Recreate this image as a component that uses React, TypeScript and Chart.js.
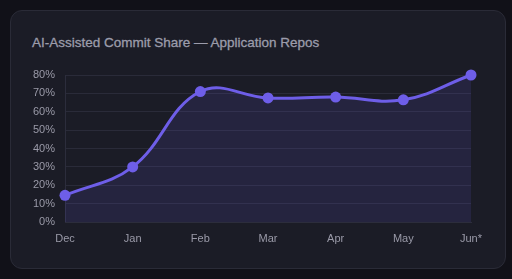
import React, { useEffect, useRef } from "react";
import { Chart, registerables } from "chart.js";

Chart.register(...registerables);

const categories = ["Dec", "Jan", "Feb", "Mar", "Apr", "May", "Jun*"];
const shareValues = [14.5, 30, 71, 67.5, 68, 66.5, 80];
const yTicks = [0, 10, 20, 30, 40, 50, 60, 70, 80];
const title = "AI-Assisted Commit Share — Application Repos";

export default function App() {
  const ref = useRef<HTMLCanvasElement>(null);

  useEffect(() => {
    document.body.style.margin = "0";
    document.body.style.background = "#111118";
    const ctx = ref.current!.getContext("2d")!;
    const chart = new Chart(ctx, {
      type: "line",
      data: {
        labels: categories,
        datasets: [
          {
            data: shareValues,
            borderColor: "#6e5ee8",
            backgroundColor: "rgba(110,94,232,0.13)",
            borderWidth: 3,
            fill: "origin",
            tension: 0.4,
            clip: false,
            pointRadius: 5.5,
            pointHoverRadius: 5.5,
            pointBackgroundColor: "#6e5ee8",
            pointBorderColor: "#6e5ee8",
            pointBorderWidth: 0,
          },
        ],
      },
      options: {
        animation: false,
        responsive: false,
        maintainAspectRatio: false,
        layout: { padding: { top: 75, left: 0, right: 41, bottom: 27 } },
        plugins: { legend: { display: false }, tooltip: { enabled: false } },
        scales: {
          x: {
            grid: { display: false, drawTicks: false },
            border: { display: true, color: "#2c2d3c", width: 1 },
            ticks: {
              color: "#9a9aa8",
              padding: 10,
              font: { family: "'Liberation Sans', Arial, sans-serif", size: 11 },
            },
            afterFit: (s: any) => {
              s.height = 30;
            },
          },
          y: {
            min: 0,
            max: 80,
            afterBuildTicks: (s: any) => {
              s.ticks = yTicks.map((v) => ({ value: v }));
            },
            grid: { color: "#2a2b39", drawTicks: false, lineWidth: 1 },
            border: { display: true, color: "#2c2d3c", width: 1 },
            ticks: {
              color: "#9a9aa8",
              padding: 10,
              callback: (v: any) => v + "%",
              font: { family: "'Liberation Sans', Arial, sans-serif", size: 11 },
            },
            afterFit: (s: any) => {
              s.width = 65;
            },
          },
        },
      },
    });
    return () => chart.destroy();
  }, []);

  return (
    <div style={{ position: "fixed", inset: 0, background: "#111118" }}>
      <div
        style={{
          position: "absolute",
          left: 10,
          top: 10,
          width: 494,
          height: 257,
          background: "#1b1c26",
          border: "1px solid #2a2b37",
          borderRadius: 12,
        }}
      />
      <div
        style={{
          position: "absolute",
          left: 32,
          top: 35,
          fontFamily: "'Liberation Sans', Arial, sans-serif",
          fontSize: 13.5,
          color: "#9c9cab",
          whiteSpace: "nowrap",
          WebkitTextStroke: "0.3px #9c9cab",
        }}
      >
        {title}
      </div>
      <canvas
        ref={ref}
        width={512}
        height={279}
        style={{ position: "absolute", left: 0, top: 0, width: 512, height: 279 }}
      />
    </div>
  );
}
